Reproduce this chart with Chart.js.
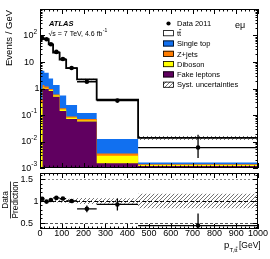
<!DOCTYPE html>
<html><head><meta charset="utf-8">
<script src="https://cdn.jsdelivr.net/npm/chart.js@4.4.1/dist/chart.umd.min.js"></script>
<style>
html,body{margin:0;padding:0;background:#fff;overflow:hidden}
canvas{position:absolute;left:0;top:0}
</style></head><body>
<canvas id="main" width="270" height="259"></canvas>
<canvas id="ratio" width="270" height="259"></canvas>
<script>
// ---- data (Events / GeV) ----
const dataEdges   = [0, 20, 40, 60, 90, 120, 170, 260, 450, 1000];
const dataValues  = [80, 72, 47, 24, 13, 5.9, 1.8, 0.35, 0.0059];
const dataErrUp   = [2.2, 2.1, 1.6, 0.9, 0.6, 0.3, 0.15, 0.05, 0.012];
const dataErrDown = [2.2, 2.1, 1.6, 0.9, 0.6, 0.3, 0.15, 0.05, 0.0035];
const ratioErrUp   = [0.02, 0.02, 0.02, 0.025, 0.03, 0.04, 0.08, 0.14, 0.28];
const ratioErrDown = [0.02, 0.02, 0.02, 0.025, 0.03, 0.04, 0.08, 0.14, 0.5];
const systRel     = [0.03, 0.03, 0.03, 0.035, 0.04, 0.05, 0.07, 0.065, 0.17];

const mcEdges   = [0, 12, 20, 40, 60, 90, 120, 170, 260, 450, 1000];
const ttbar     = [71.3, 71.3, 69.1, 43.6, 21.05, 11.76, 5.66, 2.08, 0.368, 0.0121];
const singleTop = [4.33, 3.35, 2.7, 1.45, 0.75, 0.36, 0.153, 0.05, 0.0088, 0.0002];
const zjets     = [0.09, 0.25, 0.2, 0.08, 0.05, 0.02, 0.009, 0.008, 0.0006, 0.0001];
const diboson   = [0.28, 0.1, 0.05, 0.07, 0.06, 0.017, 0.008, 0.005, 0.0014, 0.0001];
const fakes     = [0, 1.0, 0.95, 0.8, 0.49, 0.143, 0.07, 0.057, 0.0015, 0.0012];

const xTickValues = [0,100,200,300,400,500,600,700,800,900,1000];
const legendLabels = ['Data 2011', 'tt', 'Single top', 'Z+jets', 'Diboson', 'Fake leptons', 'Syst. uncertainties'];

// ---- styling ----
const FONT = '"Liberation Sans", Arial, Helvetica, sans-serif';
const COL = {tt:'#ffffff', st:'#1170f0', z:'#ff7c00', db:'#ffff00', fk:'#600060'};

function makeHatch(){
  const c = document.createElement('canvas'); c.width = 4; c.height = 4;
  const g = c.getContext('2d');
  g.strokeStyle = '#3a3a3a'; g.lineWidth = 0.7;
  g.beginPath();
  g.moveTo(0,4); g.lineTo(4,0);
  g.moveTo(-1,1); g.lineTo(1,-1);
  g.moveTo(3,5); g.lineTo(5,3);
  g.stroke();
  return g.createPattern(c, 'repeat');
}
const hatch = makeHatch();

const cumFake = fakes.slice();
const cumDib  = cumFake.map((v,i)=>v+diboson[i]);
const cumZ    = cumDib.map((v,i)=>v+zjets[i]);
const cumST   = cumZ.map((v,i)=>v+singleTop[i]);
const cumTot  = cumST.map((v,i)=>v+ttbar[i]);

function mcIndexAt(x){ for (let j=0;j<mcEdges.length-1;j++) if (x>=mcEdges[j] && x<mcEdges[j+1]) return j; return mcEdges.length-2; }
const centers = dataEdges.slice(0,-1).map((e,i)=>(e+dataEdges[i+1])/2);
const predTotal = centers.map(c=>cumTot[mcIndexAt(c)]);
const ratio = dataValues.map((v,i)=>v/predTotal[i]);
const systUp = predTotal.map((t,i)=>t*(1+systRel[i]));
const systDn = predTotal.map((t,i)=>t*(1-systRel[i]));

function stepPts(edges, vals){ return edges.map((e,i)=>({x:e, y: Math.max(vals[Math.min(i, vals.length-1)], 1e-9)})); }
function line(pts, extra){ return Object.assign({data:pts, stepped:'before', pointRadius:0, borderWidth:0, borderColor:'rgba(0,0,0,0)', fill:false}, extra); }
function pointsDs(vals){ return {data: centers.map((c,i)=>({x:c,y:vals[i]})), showLine:false, pointRadius:2.3, pointBackgroundColor:'#000', pointBorderColor:'#000', pointBorderWidth:0, borderColor:'#000'}; }

function drawTTbar(ctx, text1, x, y, font, capH){
  ctx.font = font;
  ctx.textAlign = 'left'; ctx.textBaseline = 'alphabetic';
  ctx.fillText(text1 + 't', x, y);
  const w1 = ctx.measureText(text1).width, wt = ctx.measureText('t').width;
  ctx.save(); ctx.lineWidth = 0.7; ctx.strokeStyle = '#000';
  ctx.beginPath(); ctx.moveTo(x+w1, y-capH); ctx.lineTo(x+w1+wt, y-capH); ctx.stroke(); ctx.restore();
}

function xTicks(ctx, ca, xs){
  ctx.beginPath();
  for (let v=0; v<=1000; v+=20){
    const px = Math.round(xs.getPixelForValue(v))+0.5;
    const len = v%100===0 ? 5 : 2.5;
    ctx.moveTo(px, ca.bottom); ctx.lineTo(px, ca.bottom-len);
    ctx.moveTo(px, ca.top); ctx.lineTo(px, ca.top+len);
  }
  ctx.stroke();
}
function yTicks(ctx, ca, ys, list){
  ctx.beginPath();
  for (const [v,len] of list){
    const py = Math.round(ys.getPixelForValue(v))+0.5;
    ctx.moveTo(ca.left, py); ctx.lineTo(ca.left+len, py);
    ctx.moveTo(ca.right, py); ctx.lineTo(ca.right-len, py);
  }
  ctx.stroke();
}
function frame(ctx, ca){
  ctx.strokeRect(ca.left+0.5, ca.top+0.5, ca.right-ca.left-1, ca.bottom-ca.top-1);
}
function errorBars(chart, vals, up, dn){
  const ctx = chart.ctx, ca = chart.chartArea, xs = chart.scales.x, ys = chart.scales.y;
  ctx.save();
  ctx.beginPath(); ctx.rect(ca.left, ca.top, ca.right-ca.left, ca.bottom-ca.top); ctx.clip();
  ctx.strokeStyle = '#000'; ctx.lineWidth = 1.3;
  ctx.beginPath();
  vals.forEach((v,i)=>{
    const py = ys.getPixelForValue(v);
    ctx.moveTo(xs.getPixelForValue(dataEdges[i]), py); ctx.lineTo(xs.getPixelForValue(dataEdges[i+1]), py);
    const px = xs.getPixelForValue(centers[i]);
    const lo = v-dn[i];
    ctx.moveTo(px, ys.getPixelForValue(v+up[i])); ctx.lineTo(px, lo>0 ? ys.getPixelForValue(lo) : ca.bottom);
  });
  ctx.stroke();
  ctx.restore();
}

const mainPlugin = {
  id:'mainDeco',
  afterDatasetsDraw(chart){ errorBars(chart, dataValues, dataErrUp, dataErrDown); },
  afterDraw(chart){
    const ctx = chart.ctx, ca = chart.chartArea, xs = chart.scales.x, ys = chart.scales.y;
    ctx.save();
    ctx.strokeStyle = '#000'; ctx.fillStyle = '#000'; ctx.lineWidth = 1;
    xTicks(ctx, ca, xs);
    const yl = [];
    for (let d=-3; d<=3; d++) for (let k=1;k<=9;k++){ const v=k*Math.pow(10,d); if (v>1000.0001) break; yl.push([v, k===1?5:2.5]); }
    yTicks(ctx, ca, ys, yl);
    frame(ctx, ca);
    const labs = [[1e-3,'10','-3',37],[1e-2,'10','-2',37],[1e-1,'10','-1',37],[1,'1','',39.5],[10,'10','',34],[100,'10','2',37]];
    ctx.textBaseline = 'middle'; ctx.textAlign = 'left';
    for (const [v,b,e,r] of labs){
      const py = ys.getPixelForValue(v);
      ctx.font = '9px '+FONT; const wb = ctx.measureText(b).width;
      ctx.font = '6.5px '+FONT; const we = e ? ctx.measureText(e).width : 0;
      const x0 = r - wb - we;
      ctx.font = '9px '+FONT; ctx.fillText(b, x0, py+0.5);
      if (e){ ctx.font = '6.5px '+FONT; ctx.fillText(e, x0+wb, py-3.5); }
    }
    ctx.save(); ctx.translate(9, 10); ctx.rotate(-Math.PI/2);
    ctx.font = '9.5px '+FONT; ctx.textAlign = 'right'; ctx.textBaseline = 'middle';
    ctx.fillText('Events / GeV', 0, 0); ctx.restore();
    ctx.textAlign = 'left'; ctx.textBaseline = 'alphabetic';
    ctx.font = 'italic bold 7.5px '+FONT; ctx.fillText('ATLAS', 49, 26);
    ctx.font = '7px '+FONT;
    const s1 = '\u221As = 7 TeV, 4.6 fb';
    ctx.fillText(s1, 48.5, 35.5);
    const w1 = ctx.measureText(s1).width;
    ctx.font = '5px '+FONT; ctx.fillText('-1', 48.5+w1+0.3, 32.3);
    ctx.font = '9px '+FONT; ctx.fillText('e\u03BC', 235, 27.5);
    const rows = [23.5, 33.2, 43.5, 53.8, 64.1, 74.4, 84.7];
    const bx = 163, bw = 11, bh = 6, tx = 177;
    ctx.beginPath(); ctx.arc(168.5, rows[0], 2.1, 0, Math.PI*2); ctx.fill();
    const fills = [null, COL.tt, COL.st, COL.z, COL.db, COL.fk, hatch];
    for (let i=1;i<rows.length;i++){
      ctx.fillStyle = fills[i]; ctx.fillRect(bx, rows[i]-bh/2, bw, bh);
      ctx.strokeStyle = '#000'; ctx.lineWidth = 0.8; ctx.strokeRect(bx+0.4, rows[i]-bh/2+0.4, bw-0.8, bh-0.8);
    }
    ctx.fillStyle = '#000';
    ctx.font = '7.5px '+FONT; ctx.textBaseline = 'alphabetic';
    for (let i=0;i<rows.length;i++){
      if (i===1){ drawTTbar(ctx, 't', tx, rows[i]+2.7, '7.5px '+FONT, 6.3); ctx.font = '7.5px '+FONT; continue; }
      ctx.fillText(legendLabels[i], tx, rows[i]+2.7);
    }
    ctx.restore();
  }
};

const ratioPlugin = {
  id:'ratioDeco',
  beforeDatasetsDraw(chart){
    const ctx = chart.ctx, ca = chart.chartArea, ys = chart.scales.y;
    ctx.save(); ctx.lineWidth = 1;
    for (const [v,c,d] of [[1.5,'#888',[2,2]],[1,'#000',[4,2]],[0.5,'#555',[3,2]]]){
      const py = Math.round(ys.getPixelForValue(v))+0.5;
      ctx.strokeStyle = c; ctx.setLineDash(d);
      ctx.beginPath(); ctx.moveTo(ca.left, py); ctx.lineTo(ca.right, py); ctx.stroke();
    }
    ctx.restore();
  },
  afterDatasetsDraw(chart){ errorBars(chart, ratio, ratioErrUp, ratioErrDown); },
  afterDraw(chart){
    const ctx = chart.ctx, ca = chart.chartArea, xs = chart.scales.x, ys = chart.scales.y;
    ctx.save();
    ctx.strokeStyle = '#000'; ctx.fillStyle = '#000'; ctx.lineWidth = 1;
    xTicks(ctx, ca, xs);
    const yl = [];
    for (let k=4;k<=16;k++) yl.push([k/10, k%5===0 ? 5 : 2.5]);
    yTicks(ctx, ca, ys, yl);
    frame(ctx, ca);
    ctx.font = '9px '+FONT; ctx.textBaseline = 'middle'; ctx.textAlign = 'right';
    for (const [v,t,r] of [[1.5,'1.5',33],[1,'1',38.5],[0.5,'0.5',33]]) ctx.fillText(t, r, ys.getPixelForValue(v)+0.5);
    ctx.textAlign = 'center';
    for (const v of xTickValues) ctx.fillText(String(v), xs.getPixelForValue(v), 233.5);
    ctx.save(); ctx.translate(10, 200); ctx.rotate(-Math.PI/2);
    ctx.font = '8.3px '+FONT; ctx.textAlign = 'center'; ctx.textBaseline = 'middle';
    ctx.fillText('Data', 0, -4.5);
    ctx.fillText('Prediction', 0, 6);
    const wp = ctx.measureText('Prediction').width;
    ctx.lineWidth = 0.8; ctx.beginPath(); ctx.moveTo(-wp/2, 0.5); ctx.lineTo(wp/2, 0.5); ctx.stroke();
    ctx.restore();
    ctx.textAlign = 'left'; ctx.textBaseline = 'alphabetic';
    ctx.font = '9.5px '+FONT; ctx.fillText('p', 224, 247.5);
    drawTTbar(ctx, 'T,t', 229.5, 252, '6px '+FONT, 4.8);
    ctx.font = '8.5px '+FONT; ctx.fillText('[GeV]', 239, 247.5);
    ctx.restore();
  }
};

const common = {responsive:false, animation:false, devicePixelRatio:1, events:[],
  plugins:{legend:{display:false}, tooltip:{enabled:false}}};

new Chart(document.getElementById('main'), {
  type:'line',
  data:{datasets:[
    pointsDs(dataValues),
    line(stepPts(mcEdges, cumTot), {borderColor:'#000', borderWidth:1.8}),
    line(stepPts(dataEdges, systUp), {fill:'+1', backgroundColor:hatch}),
    line(stepPts(dataEdges, systDn), {}),
    line(stepPts(mcEdges, cumFake), {fill:'start', backgroundColor:COL.fk}),
    line(stepPts(mcEdges, cumDib), {fill:'start', backgroundColor:COL.db}),
    line(stepPts(mcEdges, cumZ), {fill:'start', backgroundColor:COL.z}),
    line(stepPts(mcEdges, cumST), {fill:'start', backgroundColor:COL.st}),
    line(stepPts(mcEdges, cumTot), {fill:'start', backgroundColor:COL.tt})
  ]},
  options:Object.assign({}, common, {
    layout:{padding:{left:40, right:12, top:9, bottom:91}},
    scales:{x:{type:'linear', min:0, max:1000, display:false}, y:{type:'logarithmic', min:1e-3, max:1e3, display:false}}
  }),
  plugins:[mainPlugin]
});

new Chart(document.getElementById('ratio'), {
  type:'line',
  data:{datasets:[
    pointsDs(ratio),
    line(stepPts(dataEdges, systRel.map(u=>1+u)), {fill:'+1', backgroundColor:hatch}),
    line(stepPts(dataEdges, systRel.map(u=>1-u)), {})
  ]},
  options:Object.assign({}, common, {
    layout:{padding:{left:40, right:12, top:173, bottom:30}},
    scales:{x:{type:'linear', min:0, max:1000, display:false}, y:{type:'linear', min:0.35, max:1.65, display:false}}
  }),
  plugins:[ratioPlugin]
});
</script>
</body></html>
